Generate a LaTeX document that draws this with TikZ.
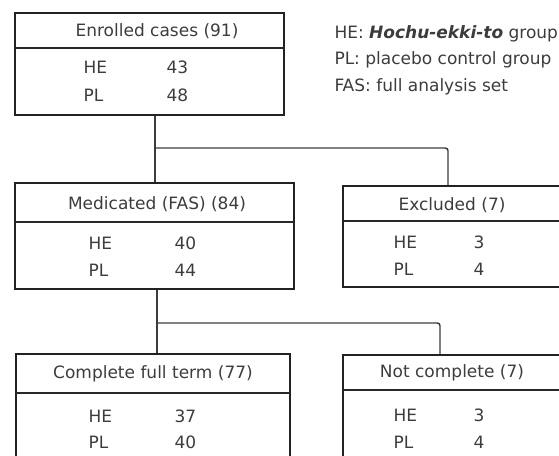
\documentclass[tikz,border=0pt]{standalone}
\usepackage{fontspec}
\setmainfont{DejaVu Sans}
\usetikzlibrary{fit}

\tikzset{every picture/.style={line width=0.75pt}}
\tikzset{
  box/.style={draw={rgb, 255:red, 34; green, 34; blue, 34 }, line width=1.8pt, inner sep=0pt},
  sep/.style={draw={rgb, 255:red, 40; green, 40; blue, 40 }, line width=1.3pt},
  link/.style={draw={rgb, 255:red, 60; green, 60; blue, 60 }, line width=1.1pt, rounded corners=2pt},
  txt/.style={text={rgb, 255:red, 60; green, 60; blue, 60 }, inner sep=0.75pt, font=\fontsize{12.75}{15}\selectfont},
}

\begin{document}
\begin{tikzpicture}[x=0.75pt,y=0.75pt,yscale=-1,xscale=1]
    \clip (0,0) rectangle (559,455);
    % boxes
    \node (enr) [box, fit={(15,13) (284,115)}] {};
    \node (med) [box, fit={(15,183) (294,289)}] {};
    \node (exc) [box, fit={(343,186) (575,287)}] {};
    \node (cmp) [box, fit={(16,354) (290,480)}] {};
    \node (ncp) [box, fit={(343,355) (575,480)}] {};
    \draw [sep] (15,48) -- (284,48);
    \draw [sep] (15,222) -- (294,222);
    \draw [sep] (343,221) -- (575,221);
    \draw [sep] (16,393) -- (290,393);
    \draw [sep] (343,390) -- (575,390);
    % connectors
    \coordinate (j1) at (155,148);
    \coordinate (b1) at (448,148);
    \coordinate (j2) at (157,323);
    \coordinate (b2) at (440,323);
    \draw [link] (enr.south -| j1) -- (med.north -| j1);
    \draw [link] (j1) -- (b1) -- (b1 |- exc.north);
    \draw [link] (med.south -| j2) -- (cmp.north -| j2);
    \draw [link] (j2) -- (b2) -- (b2 |- ncp.north);
    % texts
    \node [txt] (enrT) at (157,31) {Enrolled cases (91)};
    \node [txt, anchor=west] (enrHE) at (82,67) {HE};
    \node [txt, anchor=west] (enrHEn) at (165,67) {43};
    \node [txt, anchor=west] (enrPL) at (82,95) {PL};
    \node [txt, anchor=west] (enrPLn) at (165,95) {48};
    \node [txt] (medT) at (157,204) {Medicated (FAS) (84)};
    \node [txt, anchor=west] (medHE) at (87,243) {HE};
    \node [txt, anchor=west] (medHEn) at (173,243) {40};
    \node [txt, anchor=west] (medPL) at (87,270) {PL};
    \node [txt, anchor=west] (medPLn) at (173,270) {44};
    \node [txt] (excT) at (452,205) {Excluded (7)};
    \node [txt, anchor=west] (excHE) at (392,242) {HE};
    \node [txt, anchor=west] (excHEn) at (472,242) {3};
    \node [txt, anchor=west] (excPL) at (392,269) {PL};
    \node [txt, anchor=west] (excPLn) at (472,269) {4};
    \node [txt] (cmpT) at (153,374) {Complete full term (77)};
    \node [txt, anchor=west] (cmpHE) at (87,416) {HE};
    \node [txt, anchor=west] (cmpHEn) at (173,416) {37};
    \node [txt, anchor=west] (cmpPL) at (87,442) {PL};
    \node [txt, anchor=west] (cmpPLn) at (173,442) {40};
    \node [txt] (ncpT) at (452,373) {Not complete (7)};
    \node [txt, anchor=west] (ncpHE) at (392,415) {HE};
    \node [txt, anchor=west] (ncpHEn) at (472,415) {3};
    \node [txt, anchor=west] (ncpPL) at (392,442) {PL};
    \node [txt, anchor=west] (ncpPLn) at (472,442) {4};
    % legend
    \node [txt, anchor=west] (keyHE) at (333,34) {HE: \textbf{\textit{Hochu-ekki-to}} group};
    \node [txt, anchor=west] (keyPL) at (333,60) {PL: placebo control group};
    \node [txt, anchor=west] (keyFAS) at (333,87) {FAS: full analysis set};
\end{tikzpicture}
\end{document}
